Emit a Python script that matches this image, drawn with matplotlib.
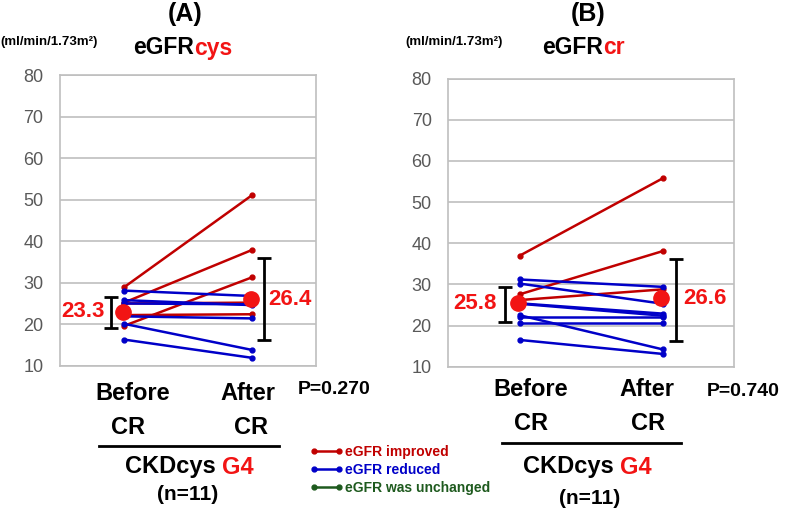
import matplotlib
matplotlib.use("Agg")
import matplotlib.pyplot as plt
from matplotlib.lines import Line2D

# data
# panel A: eGFRcys
a_before = [28.9, 25.2, 19.6, 22.2, 25.0, 28.1, 25.8, 25.0, 21.9, 20.1, 16.3]
a_after = [51.1, 37.9, 31.3, 22.4, 25.2, 26.8, 24.6, 24.8, 21.4, 13.8, 11.9]
a_status = ['up', 'up', 'up', 'up', 'up', 'down', 'down', 'down', 'down', 'down', 'down']
a_mean = [23.3, 26.4]
a_mean_drawn = [23.0, 26.0]
a_err_low = [19.2, 16.2]
a_err_high = [26.6, 35.9]
a_p = "P=0.270"

# panel B: eGFRcr
b_before = [37.0, 27.6, 26.2, 31.2, 30.2, 25.4, 25.3, 22.5, 22.0, 20.7, 16.5]
b_after = [55.8, 38.1, 28.8, 29.4, 25.3, 22.9, 22.4, 14.2, 22.0, 20.7, 13.1]
b_status = ['up', 'up', 'up', 'down', 'down', 'down', 'down', 'down', 'down', 'down', 'down']
b_mean = [25.8, 26.6]
b_mean_drawn = [25.4, 26.6]
b_err_low = [20.9, 16.3]
b_err_high = [29.4, 36.2]
b_p = "P=0.740"

yticks = [10, 20, 30, 40, 50, 60, 70, 80]
legend_labels = ['eGFR improved', 'eGFR reduced', 'eGFR was unchanged']

RED = '#C00000'
BLUE = '#0000C8'
GREEN = '#1E5A1E'
BRIGHT = '#F21414'
COLORS = {'up': RED, 'down': BLUE, 'same': GREEN}

plt.rcParams['font.family'] = ['Liberation Sans', 'DejaVu Sans']

W, H = 787, 509
fig = plt.figure(figsize=(W / 100, H / 100), dpi=100)


def fx(px):
    return px / W


def fy(py):
    return 1 - py / H


def draw_panel(rect, before, after, status, mean, mean_drawn, err_low, err_high,
               xb_err, xa_err, lab_b, lab_a):
    ax = fig.add_axes(rect)
    for b, a, s in zip(before, after, status):
        ax.plot([1, 3], [b, a], color=COLORS[s], lw=1.8, marker='o', ms=3.5,
                solid_capstyle='round', zorder=3)
    ax.plot([0.98, 2.98], mean_drawn, ls='none', marker='o', ms=11,
            color=BRIGHT, zorder=5)
    for x, lo, hi in zip([xb_err, xa_err], err_low, err_high):
        c = (lo + hi) / 2
        ax.errorbar([x], [c], yerr=[[c - lo], [hi - c]], fmt='none',
                    ecolor='black', elinewidth=2, capsize=5, capthick=2, zorder=4)
    ax.text(lab_b, mean_drawn[0], f"{mean[0]:.1f}", ha='right', va='center',
            color=BRIGHT, fontsize=16, fontweight='bold')
    ax.text(lab_a, mean_drawn[1], f"{mean[1]:.1f}", ha='left', va='center',
            color=BRIGHT, fontsize=16, fontweight='bold')
    ax.set_xlim(0, 4)
    ax.set_ylim(10, 80)
    ax.set_xticks([])
    ax.set_yticks(yticks)
    ax.tick_params(axis='y', length=0, pad=12, labelsize=13, labelcolor='#595959')
    ax.grid(axis='y', color='#BFBFBF', lw=1.2)
    ax.set_axisbelow(True)
    for sp in ax.spines.values():
        sp.set_color('#BFBFBF')
        sp.set_linewidth(1.2)
    return ax


draw_panel([fx(60), fy(365.7), fx(256), 290.4 / H], a_before, a_after, a_status,
           a_mean, a_mean_drawn, a_err_low, a_err_high, 0.80, 3.18, 0.70, 3.25)
draw_panel([fx(448.3), fy(366.7), fx(286), 288 / H], b_before, b_after, b_status,
           b_mean, b_mean_drawn, b_err_low, b_err_high, 0.79, 3.18, 0.67, 3.28)

bold = dict(fontweight='bold')


def two_color(x_right, y, first, second, size, color2=BRIGHT, gap=0):
    t = fig.text(fx(x_right), fy(y), first, ha='right', va='center',
                 fontsize=size, **bold)
    plt.annotate(second, xy=(1, 0.5), xycoords=t, xytext=(gap, 0),
                 textcoords='offset points', ha='left', va='center',
                 fontsize=size, color=color2, **bold)


# titles
fig.text(fx(185), fy(14), '(A)', ha='center', va='center', fontsize=18, **bold)
fig.text(fx(588), fy(14), '(B)', ha='center', va='center', fontsize=18, **bold)
two_color(194, 48, 'eGFR', 'cys', 16.5)
two_color(603, 48, 'eGFR', 'cr', 16.5)
fig.text(fx(0), fy(42), '(ml/min/1.73m\u00b2)', ha='left', va='center',
         fontsize=9.5, **bold)
fig.text(fx(405), fy(42), '(ml/min/1.73m\u00b2)', ha='left', va='center',
         fontsize=9.5, **bold)

# bottom labels, panel A
for x, y, s in [(133, 393, 'Before'), (248, 393, 'After'),
                (128, 427, 'CR'), (251, 427, 'CR')]:
    fig.text(fx(x), fy(y), s, ha='center', va='center', fontsize=17, **bold)
fig.add_artist(Line2D([fx(99), fx(279)], [fy(446), fy(446)], color='black', lw=2))
two_color(216, 467, 'CKDcys', 'G4', 17, gap=4)
fig.text(fx(188), fy(495), '(n=11)', ha='center', va='center', fontsize=15, **bold)
fig.text(fx(298), fy(390), a_p, ha='left', va='center', fontsize=14, **bold)

# bottom labels, panel B
for x, y, s in [(531, 390, 'Before'), (647, 390, 'After'),
                (531, 423, 'CR'), (648, 423, 'CR')]:
    fig.text(fx(x), fy(y), s, ha='center', va='center', fontsize=17, **bold)
fig.add_artist(Line2D([fx(502), fx(681)], [fy(443), fy(443)], color='black', lw=2))
two_color(614, 467, 'CKDcys', 'G4', 17, gap=4)
fig.text(fx(590), fy(498), '(n=11)', ha='center', va='center', fontsize=15, **bold)
fig.text(fx(707), fy(392), b_p, ha='left', va='center', fontsize=14, **bold)

# legend
handles = [Line2D([], [], color=c, lw=1.8, marker='o', ms=3.5)
           for c in [RED, BLUE, GREEN]]
leg = fig.legend(handles, legend_labels, loc='upper left',
                 bbox_to_anchor=(fx(303), fy(438)), frameon=False, numpoints=2,
                 handlelength=2.4, handletextpad=0.1, labelspacing=0.3,
                 borderpad=0, prop=dict(size=10, weight='bold'),
                 labelcolor=[RED, BLUE, GREEN])

fig.savefig('out.png', dpi=100)
